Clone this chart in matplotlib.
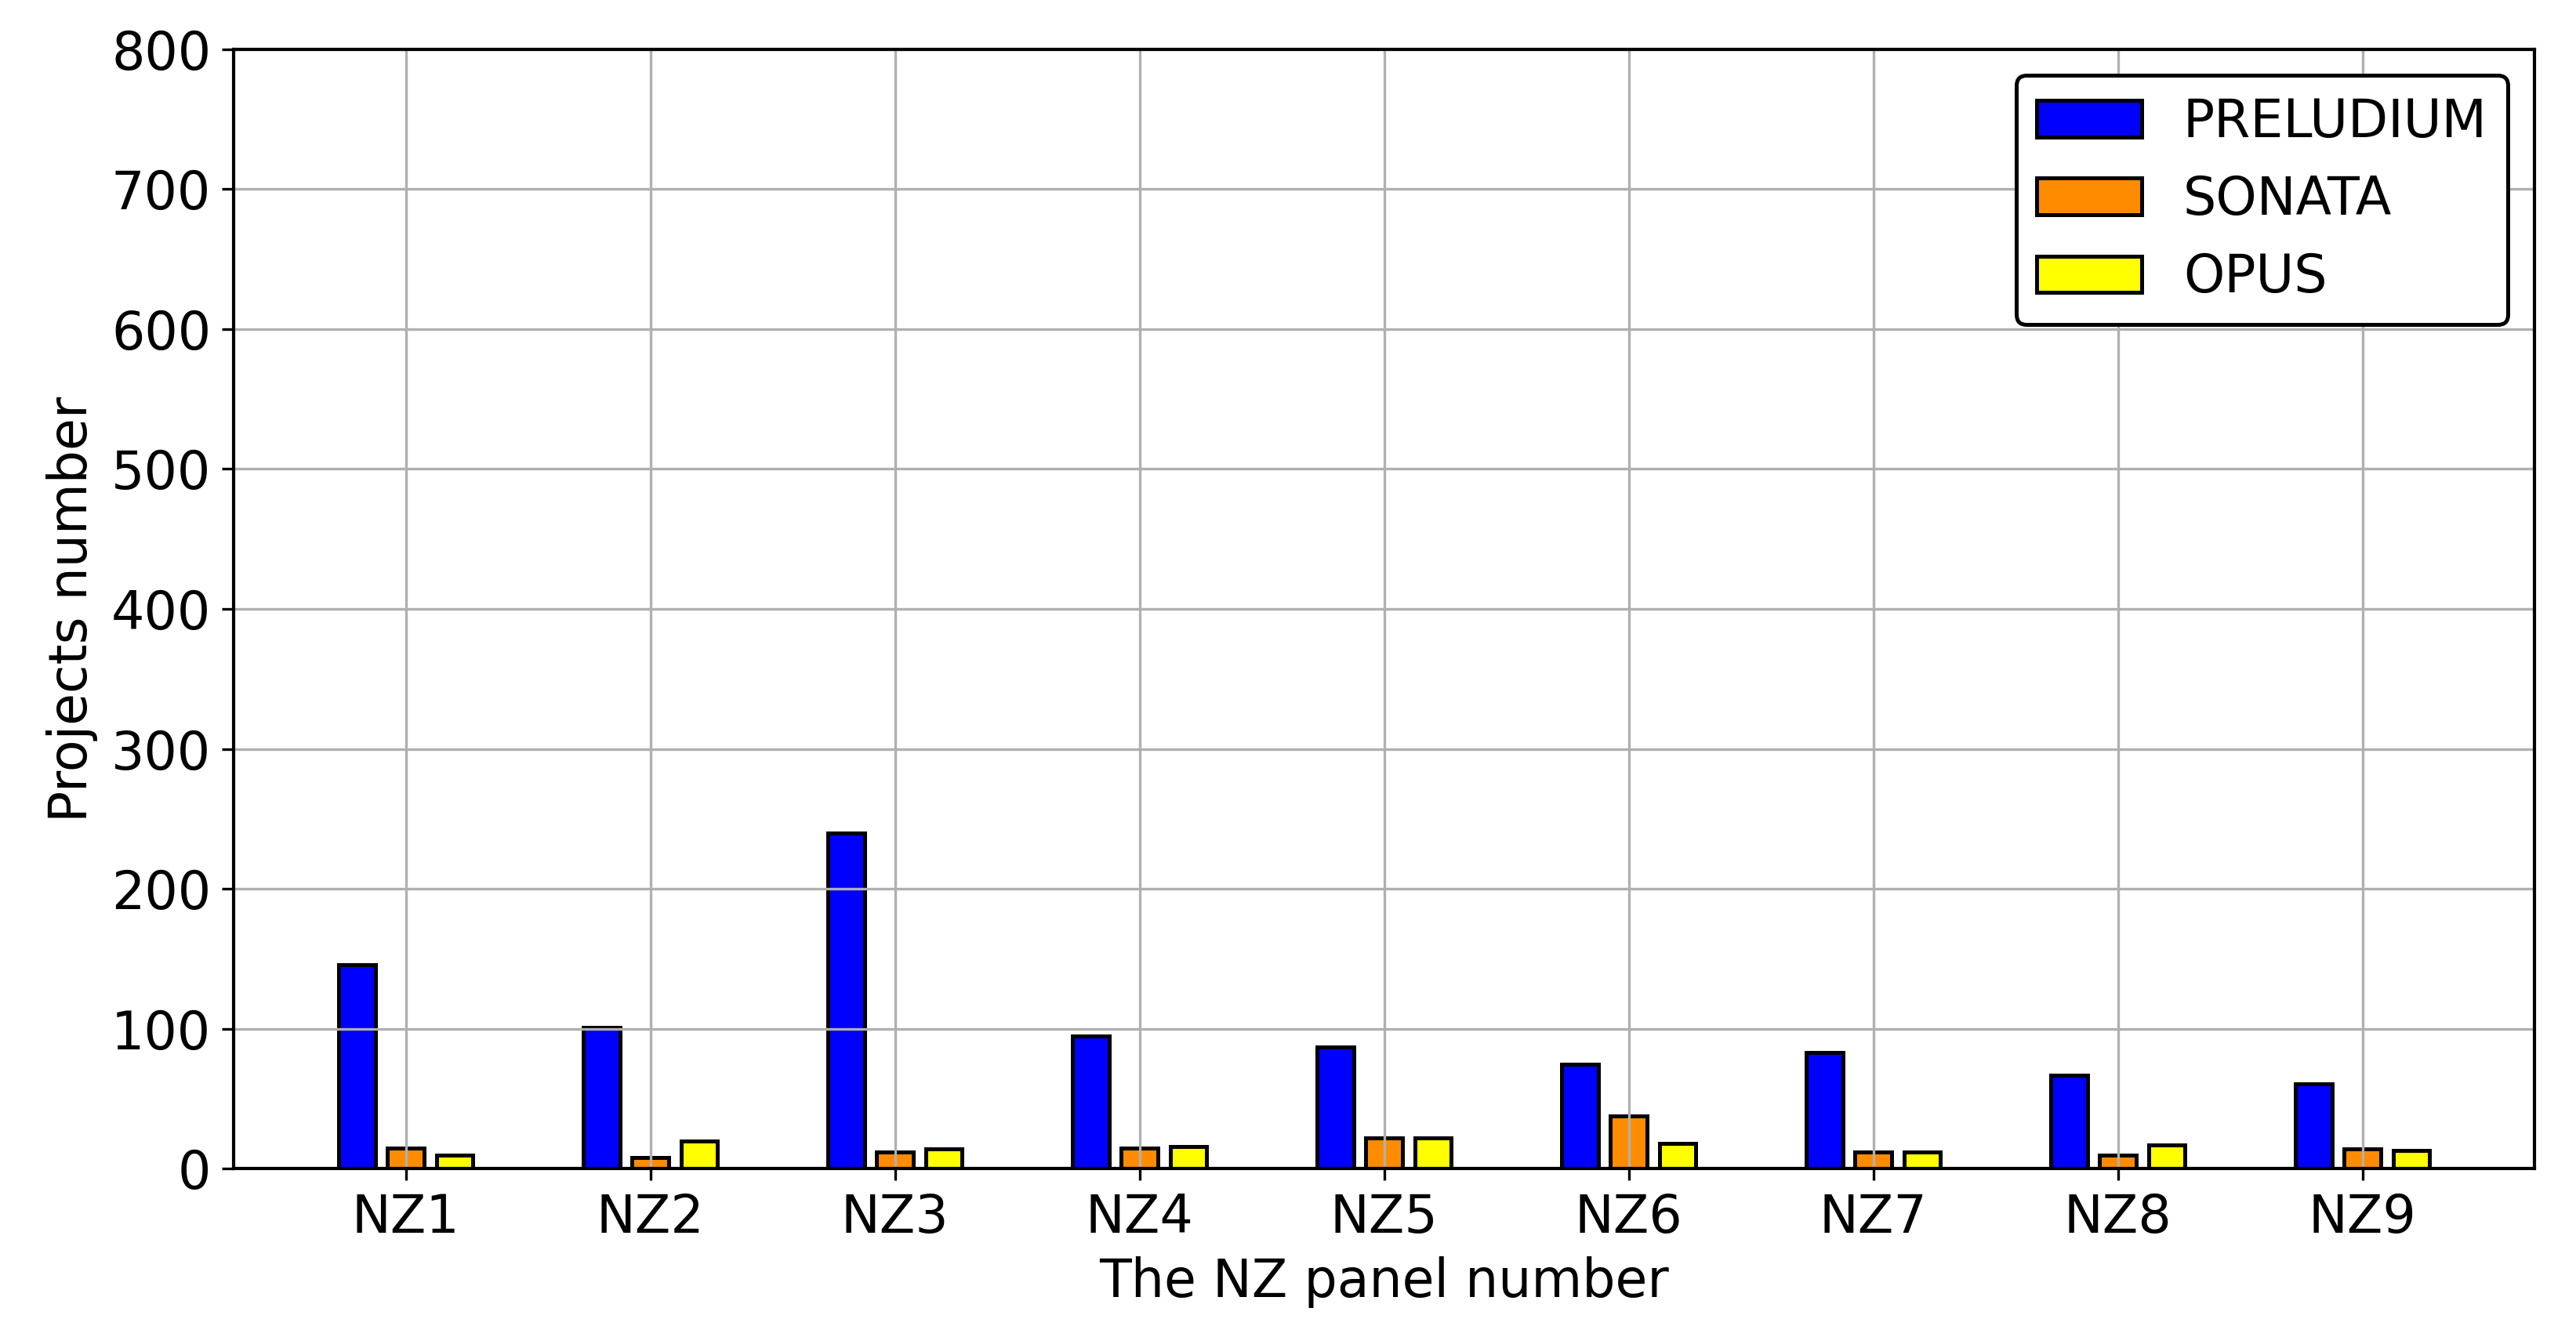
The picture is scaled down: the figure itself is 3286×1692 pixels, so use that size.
import matplotlib
matplotlib.use("Agg")
import matplotlib.pyplot as plt
import numpy as np

# Données : nombre de projets par panel NZ
panels = ["NZ1", "NZ2", "NZ3", "NZ4", "NZ5", "NZ6", "NZ7", "NZ8", "NZ9"]
preludium = [146, 101, 240, 95, 87, 75, 83, 67, 61]
sonata = [15, 8, 12, 15, 22, 38, 12, 10, 14]
opus = [10, 20, 14, 16, 22, 18, 12, 17, 13]

plt.rcParams["font.size"] = 16

x = np.arange(len(panels))
w = 0.15

fig = plt.figure(figsize=(3286 / 300, 1692 / 300), dpi=300)
ax = fig.add_subplot(111)
fig.subplots_adjust(left=0.0908, right=0.9838, top=0.963, bottom=0.1185)

ax.bar(x - 0.2, preludium, w, color="blue", edgecolor="black", linewidth=1.2, label="PRELUDIUM")
ax.bar(x, sonata, w, color="darkorange", edgecolor="black", linewidth=1.2, label="SONATA")
ax.bar(x + 0.2, opus, w, color="yellow", edgecolor="black", linewidth=1.2, label="OPUS")

ax.set_xticks(x)
ax.set_xticklabels(panels)
ax.set_ylim(0, 800)
ax.grid(True)
for s in ax.spines.values():
    s.set_linewidth(1.0)

ax.set_xlabel("The NZ panel number")
ax.set_ylabel("Projects number")

leg = ax.legend(loc="upper right", framealpha=1)
leg.get_frame().set_edgecolor("black")
leg.get_frame().set_linewidth(1.2)

fig.savefig("out.png", dpi=300)
